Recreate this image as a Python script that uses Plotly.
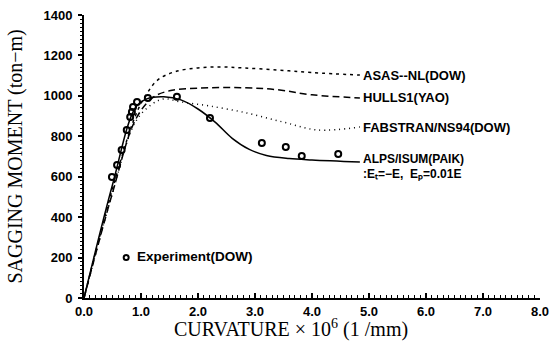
import plotly.graph_objects as go

# Experiment (DOW)
exp_x = [0.49, 0.58, 0.66, 0.75, 0.81, 0.84, 0.86, 0.93, 1.12, 1.63, 2.21, 3.12, 3.54, 3.82, 4.46]
exp_y = [599, 658, 732, 831, 896, 920, 945, 970, 990, 995, 890, 767, 747, 703, 712]

# ALPS/ISUM (PAIK)
alps_x = [0, 0.5, 0.9, 1.1, 1.4, 1.7, 2.0, 2.3, 2.6, 2.9, 3.2, 3.6, 4.0, 4.84]
alps_y = [0, 560, 940, 985, 995, 980, 935, 870, 790, 735, 705, 690, 683, 673]

# ASAS-NL (DOW)
asas_x = [0, 0.5, 0.9, 1.1, 1.3, 1.6, 2.0, 2.4, 2.8, 3.4, 4.0, 4.84]
asas_y = [0, 540, 900, 1010, 1080, 1120, 1138, 1143, 1138, 1128, 1115, 1103]

# HULLS1 (YAO)
hull_x = [0, 0.5, 0.9, 1.2, 1.5, 2.0, 2.8, 3.4, 4.0, 4.84]
hull_y = [0, 520, 880, 990, 1025, 1038, 1040, 1030, 1005, 990]

# FABSTRAN/NS94 (DOW)
fab_x = [0, 0.5, 0.9, 1.2, 1.4, 1.7, 2.2, 2.86, 3.5, 4.1, 4.84]
fab_y = [0, 520, 870, 960, 985, 970, 950, 915, 870, 831, 846]

x_ticks = [0, 1, 2, 3, 4, 5, 6, 7, 8]
x_tick_labels = ["0.0", "1.0", "2.0", "3.0", "4.0", "5.0", "6.0", "7.0", "8.0"]
y_ticks = [0, 200, 400, 600, 800, 1000, 1200, 1400]

fig = go.Figure()
fig.add_trace(go.Scatter(x=asas_x, y=asas_y, mode="lines", line=dict(color="black", width=1.5, dash="3px,4px", shape="spline"), showlegend=False))
fig.add_trace(go.Scatter(x=hull_x, y=hull_y, mode="lines", line=dict(color="black", width=1.5, dash="7px,4px", shape="spline"), showlegend=False))
fig.add_trace(go.Scatter(x=fab_x, y=fab_y, mode="lines", line=dict(color="black", width=1.5, dash="1px,4px", shape="spline"), showlegend=False))
fig.add_trace(go.Scatter(x=alps_x, y=alps_y, mode="lines", line=dict(color="black", width=1.5, shape="spline"), showlegend=False))
fig.add_trace(go.Scatter(x=exp_x, y=exp_y, mode="markers",
                         marker=dict(symbol="circle-open", size=6, color="black", line=dict(width=2)), showlegend=False))
# legend marker for experiment
fig.add_trace(go.Scatter(x=[0.74], y=[200], mode="markers",
                         marker=dict(symbol="circle-open", size=5, color="black", line=dict(width=2)), showlegend=False))

labels = [
    (4.86, 1103, "<b>ASAS--NL(DOW)</b>", 13),
    (4.86, 990, "<b>HULLS1(YAO)</b>", 13),
    (4.86, 843, "<b>FABSTRAN/NS94(DOW)</b>", 13),
    (4.86, 688, "<b>ALPS/ISUM(PAIK)</b>", 12),
    (4.86, 612, "<b>:Eₜ=−E,  Eₚ=0.01E</b>", 12),
    (0.9, 205, "<b>Experiment(DOW)</b>", 13.5),
]
for x, y, t, s in labels:
    fig.add_annotation(x=x, y=y, text=t, showarrow=False, xanchor="left", yanchor="middle",
                       font=dict(family="Liberation Sans, Arial", size=s, color="black"))

tick_font = dict(family="Liberation Sans, Arial", size=13, color="black")
title_font = dict(family="Liberation Serif, Times New Roman, serif", size=20, color="black")

fig.add_annotation(xref="paper", yref="paper", x=0.454, y=-30 / 283, text="CURVATURE × 10<sup>6</sup> (1 /mm)",
                   showarrow=False, xanchor="center", yanchor="middle", font=title_font)
fig.add_annotation(xref="paper", yref="paper", x=-69 / 456, y=0.5, text="SAGGING MOMENT (ton−m)", textangle=-90,
                   showarrow=False, xanchor="center", yanchor="middle", font=title_font)

fig.update_xaxes(range=[0, 8], tickvals=x_ticks, ticktext=["<b>%s</b>" % t for t in x_tick_labels],
                 showline=True, linecolor="black", linewidth=2, ticks="inside", ticklen=5, tickwidth=1.5,
                 tickcolor="black", automargin=False,
                 minor=dict(dtick=0.1, ticks="inside", ticklen=3, tickcolor="black", tickwidth=1),
                 showgrid=False, zeroline=False, tickfont=tick_font)
fig.update_yaxes(range=[0, 1400], tickvals=y_ticks, ticktext=["<b>%d</b>" % v for v in y_ticks],
                 showline=True, linecolor="black", linewidth=2, ticks="outside", ticklen=4, tickwidth=1.5,
                 tickcolor="black", automargin=False, ticklabelstandoff=3,
                 minor=dict(dtick=20, ticks="outside", ticklen=2, tickcolor="black", tickwidth=1),
                 showgrid=False, zeroline=False, tickfont=tick_font)

fig.update_layout(width=556, height=347, margin=dict(l=84, r=16, t=15, b=49),
                  plot_bgcolor="white", paper_bgcolor="white")
fig.write_html("out.html", config={"displayModeBar": False},
               post_script="document.body.style.margin='0';document.body.style.overflow='hidden';")
